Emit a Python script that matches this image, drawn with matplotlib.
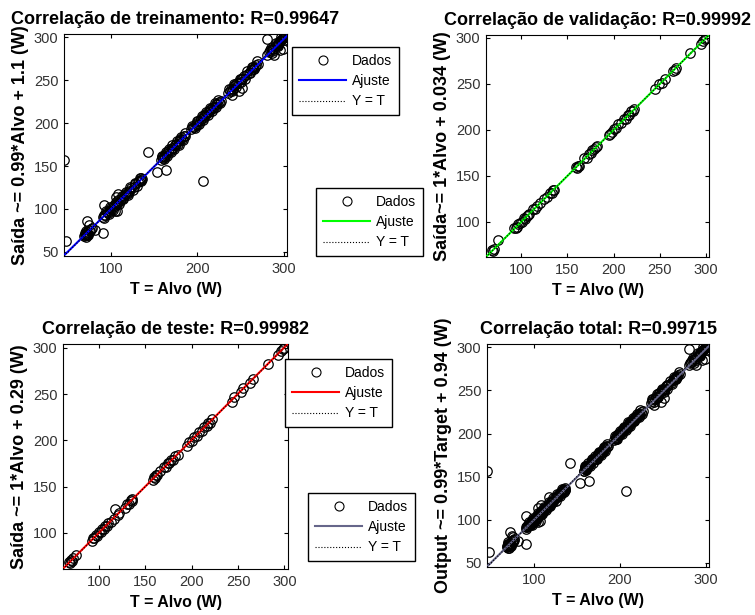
import matplotlib.pyplot as plt
from matplotlib.lines import Line2D

plt.rcParams['font.family'] = ['Liberation Sans', 'DejaVu Sans']

# Dados de treinamento (alvo T, saida Y) em W
treino_alvo = [68, 69, 70, 70, 71, 72, 73, 74, 75, 76,
               45, 47, 72, 74, 77, 81, 90, 91,
               90, 92, 93, 95, 96, 98, 100, 101, 103, 104, 106, 107, 108, 110, 111,
               113, 115, 116, 118, 120, 121, 123, 126, 128, 131, 132, 134, 135, 136,
               105, 108, 107, 104,
               142, 153, 164, 207,
               158, 159, 160, 161, 162, 164, 166, 168, 170, 172, 174, 175, 177, 179, 180, 182, 184, 186,
               193, 195, 196, 198, 199, 201, 203, 204, 206, 208, 209, 211, 213, 214, 216, 218, 219, 221, 223, 225, 227,
               236, 238, 239, 241, 242, 244, 246, 248, 250, 252, 254, 256, 260, 262, 264, 265, 267, 268, 270,
               240, 248, 252, 255,
               281, 283, 284, 286, 288, 290, 292, 293, 295, 296, 297, 298, 299, 300, 301, 302,
               281, 286, 289, 296, 299, 294]
treino_saida = [68, 70, 69, 72, 70, 73, 71, 75, 74, 76,
                157, 62, 86, 81, 78, 75, 72, 104,
                91, 93, 93, 96, 95, 98, 101, 100, 104, 103, 107, 106, 110, 109, 112,
                113, 115, 117, 117, 121, 120, 124, 126, 129, 131, 133, 134, 136, 135,
                114, 117, 98, 97,
                166, 143, 145, 133,
                157, 160, 159, 162, 161, 164, 167, 168, 171, 171, 174, 176, 176, 179, 181, 182, 185, 185,
                193, 196, 195, 199, 198, 202, 203, 205, 206, 209, 208, 212, 213, 215, 216, 219, 218, 222, 222, 225, 226,
                235, 238, 240, 240, 243, 244, 247, 247, 251, 251, 255, 256, 259, 262, 263, 266, 266, 268, 269,
                233, 237, 241, 252,
                280, 283, 285, 286, 287, 290, 291, 294, 294, 296, 297, 298, 299, 300, 301, 301,
                298, 282, 280, 285, 287, 290]

# pontos extras do treinamento (faixa densa em volta da reta)
treino_alvo_extra = [69, 71, 72, 70, 73,
                     91, 94, 97, 99, 102, 105, 109, 112, 114, 117, 119, 122, 125, 127, 130, 133, 135,
                     159, 161, 163, 165, 167, 169, 171, 173, 176, 178, 181, 183, 185,
                     194, 197, 200, 202, 205, 207, 210, 212, 215, 217, 220, 222, 224, 226,
                     237, 240, 243, 245, 249, 251, 258, 261, 263, 266, 269,
                     285, 287, 291, 294, 297, 300, 302]
treino_saida_extra = [72, 67, 70, 74, 69,
                      89, 97, 94, 102, 99, 108, 106, 115, 111, 120, 116, 125, 122, 130, 127, 136, 132,
                      162, 158, 166, 162, 170, 166, 174, 170, 179, 175, 184, 180, 188,
                      197, 194, 203, 199, 208, 204, 213, 209, 218, 214, 223, 219, 227, 223,
                      240, 237, 246, 242, 252, 248, 261, 258, 266, 263, 272,
                      288, 284, 294, 291, 300, 297, 303]

# Dados de validacao
valid_alvo = [69, 70, 71, 75,
              92, 94, 96, 97, 99, 101, 103, 104, 106, 107, 109,
              113, 115, 117, 120, 125, 128, 131, 133, 134, 136,
              159, 160, 161, 162,
              168, 171, 173, 175, 177, 179, 181, 182,
              195, 196, 198, 200, 203, 205, 208, 211, 213, 215, 217, 219, 221, 222,
              245, 249, 252, 255, 264, 266, 267, 283, 294, 297, 299, 300]
valid_saida = [70, 69, 71, 80,
               93, 94, 95, 98, 99, 100, 104, 103, 107, 108, 109,
               114, 114, 117, 121, 125, 127, 132, 132, 135, 135,
               160, 159, 161, 161,
               169, 170, 174, 175, 178, 179, 181, 183,
               194, 196, 198, 201, 202, 206, 207, 212, 212, 216, 216, 220, 220, 223,
               244, 250, 251, 255, 264, 265, 267, 283, 293, 297, 299, 300]

# Dados de teste
teste_alvo = [68, 69, 70, 71, 72, 75,
              92, 93, 95, 97, 98, 100, 102, 103, 105, 106, 108, 110,
              113, 116, 117, 120, 122,
              128, 130, 132, 134, 135, 136,
              158, 159, 160, 161, 163,
              166, 170, 172, 174, 176, 178, 180, 182, 185,
              195, 197, 200, 203, 206, 208, 211, 213, 216, 218, 220, 222,
              243, 246, 253, 255, 263, 266,
              282, 293, 296, 299, 300]
teste_saida = [69, 67, 71, 70, 73, 76,
               91, 94, 94, 98, 97, 101, 101, 104, 104, 107, 107, 111,
               112, 115, 126, 119, 121,
               127, 131, 131, 135, 134, 137,
               157, 160, 159, 162, 162,
               167, 171, 171, 175, 175, 179, 179, 183, 184,
               194, 198, 199, 204, 205, 209, 210, 214, 215, 219, 219, 223,
               241, 247, 252, 256, 262, 266,
               282, 292, 296, 299, 300]

treino_alvo = treino_alvo + treino_alvo_extra
treino_saida = treino_saida + treino_saida_extra
total_alvo = treino_alvo + valid_alvo + teste_alvo
total_saida = treino_saida + valid_saida + teste_saida

# coeficientes do ajuste linear (inclinacao, intercepto)
ajuste_treino = (0.99, 1.1)
ajuste_valid = (1.0, 0.034)
ajuste_teste = (1.0, 0.29)
ajuste_total = (0.99, 0.94)

titulos = ['Correlação de treinamento: R=0.99647',
           'Correlação de validação: R=0.99992',
           'Correlação de teste: R=0.99982',
           'Correlação total: R=0.99715']
rotulos_y = ['Saída ~= 0.99*Alvo + 1.1 (W)',
             'Saída~= 1*Alvo + 0.034 (W)',
             'Saída ~= 1*Alvo + 0.29 (W)',
             'Output ~= 0.99*Target + 0.94 (W)']

W, H = 755, 615
fig = plt.figure(figsize=(W / 100, H / 100), dpi=100)


def eixo_px(l, t, r, b):
    return fig.add_axes([l / W, 1 - b / H, (r - l) / W, (b - t) / H])


paineis = [
    # caixa px, alvo, saida, ajuste, cor, lim, xticks, yticks, legenda px
    ((64, 34, 287, 256), treino_alvo, treino_saida, ajuste_treino, '#0000ff',
     (45, 304), [100, 200, 300], [50, 100, 150, 200, 250, 300], (292, 47)),
    ((486, 35, 709, 257), valid_alvo, valid_saida, ajuste_valid, '#00ff00',
     (62, 303), [100, 150, 200, 250, 300], [100, 150, 200, 250, 300], (316, 188)),
    ((63, 344, 288, 569), teste_alvo, teste_saida, ajuste_teste, '#ff0000',
     (61, 304), [100, 150, 200, 250, 300], [100, 150, 200, 250, 300], (285, 359)),
    ((487, 344, 709, 567), total_alvo, total_saida, ajuste_total, '#66668a',
     (45, 304), [100, 200, 300], [50, 100, 150, 200, 250, 300], (308, 493)),
]

for i, (caixa, alvo, saida, aj, cor, lim, xt, yt, leg) in enumerate(paineis):
    ax = eixo_px(*caixa)
    ax.plot(alvo, saida, 'o', mfc='none', mec='black', ms=6.8, mew=0.9, zorder=2)
    ax.plot(lim, [aj[0] * lim[0] + aj[1], aj[0] * lim[1] + aj[1]], color=cor, lw=1.5, zorder=3)
    ax.plot(lim, lim, ':', color='black', lw=0.8, zorder=4)
    ax.set_xlim(lim)
    ax.set_ylim(lim)
    ax.set_xticks(xt)
    ax.set_yticks(yt)
    ax.tick_params(direction='in', length=3, top=True, right=True,
                   labelsize=10.5, labelcolor='#333333', pad=4)
    for s in ax.spines.values():
        s.set_linewidth(0.8)
    ax.set_title(titulos[i], fontsize=13, fontweight='bold', pad=7)
    ax.set_xlabel('T = Alvo (W)', fontsize=11.5, fontweight='bold')
    ax.set_ylabel(rotulos_y[i], fontsize=13, fontweight='bold')
    altura = caixa[3] - caixa[1]
    largura = caixa[2] - caixa[0]
    ax.xaxis.set_label_coords(0.5, -26 / altura)
    ax.yaxis.set_label_coords(-35 / largura, 0.5)

    alcas = [Line2D([], [], ls='none', marker='o', mfc='none', mec='black', ms=6.5, mew=0.8),
             Line2D([], [], color=cor, lw=1.5),
             Line2D([], [], ls=':', color='black', lw=0.8)]
    fig.legend(alcas, ['Dados', 'Ajuste', 'Y = T'], loc='upper left',
               bbox_to_anchor=(leg[0] / W, 1 - leg[1] / H), borderaxespad=0,
               fontsize=10, fancybox=False, edgecolor='black', framealpha=1,
               handlelength=3.4, handletextpad=0.4, labelspacing=0.45, borderpad=0.5)

fig.savefig('out.png', dpi=100)
